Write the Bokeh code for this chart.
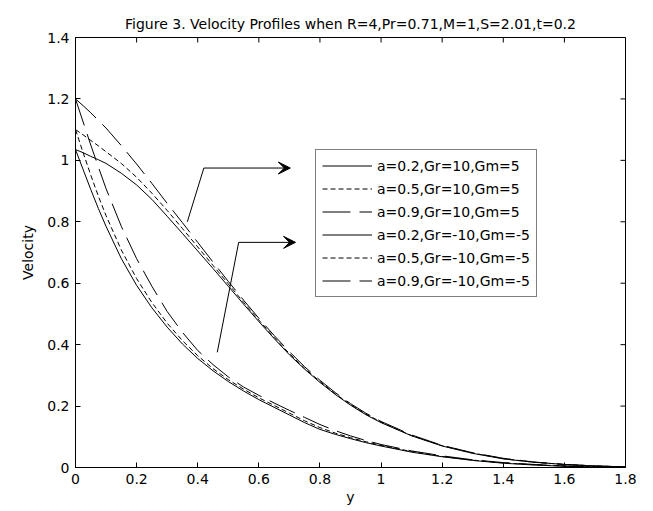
import math
from bokeh.plotting import figure
from bokeh.models import (Range1d, FixedTicker, Legend, LegendItem, Arrow, VeeHead)
from bokeh.embed import file_html
from bokeh.resources import INLINE

# ---------------- data ----------------
y_pos = [0, 0.025, 0.05, 0.075, 0.1, 0.15, 0.2, 0.25, 0.3, 0.35, 0.4, 0.45, 0.5,
         0.55, 0.6, 0.65, 0.7, 0.75, 0.8, 0.85, 0.9, 0.95, 1.0, 1.1, 1.2, 1.3,
         1.4, 1.5, 1.6, 1.7, 1.8]

u_a02_gr10 = [1.035, 1.025, 1.013, 1.002, 0.99, 0.958, 0.92, 0.873, 0.818, 0.762,
              0.705, 0.648, 0.59, 0.532, 0.475, 0.42, 0.367, 0.32, 0.277, 0.238,
              0.203, 0.172, 0.146, 0.103, 0.07, 0.046, 0.028, 0.017, 0.01, 0.005, 0.002]
u_a05_gr10 = [1.1, 1.083, 1.065, 1.047, 1.028, 0.99, 0.945, 0.893, 0.837, 0.778,
              0.718, 0.658, 0.598, 0.538, 0.48, 0.424, 0.371, 0.323, 0.28, 0.24,
              0.205, 0.174, 0.148, 0.104, 0.071, 0.047, 0.029, 0.017, 0.01, 0.005, 0.002]
u_a09_gr10 = [1.2, 1.178, 1.155, 1.13, 1.105, 1.048, 0.988, 0.925, 0.86, 0.797,
              0.733, 0.669, 0.606, 0.545, 0.486, 0.43, 0.377, 0.328, 0.284, 0.244,
              0.208, 0.177, 0.15, 0.106, 0.072, 0.048, 0.03, 0.018, 0.01, 0.005, 0.002]
u_a02_grm10 = [1.035, 0.97, 0.905, 0.843, 0.785, 0.68, 0.593, 0.52, 0.457, 0.402,
               0.355, 0.315, 0.28, 0.249, 0.221, 0.196, 0.171, 0.146, 0.124, 0.108,
               0.094, 0.081, 0.07, 0.05, 0.035, 0.023, 0.014, 0.008, 0.004, 0.002, 0.001]
u_a05_grm10 = [1.1, 1.025, 0.952, 0.883, 0.82, 0.708, 0.615, 0.537, 0.47, 0.413,
               0.364, 0.322, 0.286, 0.255, 0.227, 0.202, 0.177, 0.152, 0.13, 0.112,
               0.097, 0.084, 0.072, 0.052, 0.036, 0.024, 0.015, 0.009, 0.005, 0.002, 0.001]
u_a09_grm10 = [1.2, 1.125, 1.05, 0.978, 0.908, 0.785, 0.68, 0.59, 0.508, 0.44,
               0.381, 0.335, 0.295, 0.262, 0.235, 0.21, 0.186, 0.163, 0.14, 0.12,
               0.103, 0.088, 0.075, 0.054, 0.038, 0.025, 0.016, 0.01, 0.005, 0.002, 0.001]

series_labels = ["a=0.2,Gr=10,Gm=5", "a=0.5,Gr=10,Gm=5", "a=0.9,Gr=10,Gm=5",
                 "a=0.2,Gr=-10,Gm=-5", "a=0.5,Gr=-10,Gm=-5", "a=0.9,Gr=-10,Gm=-5"]

x_ticks = [0, 0.2, 0.4, 0.6, 0.8, 1, 1.2, 1.4, 1.6, 1.8]
x_tick_labels = ["0", "0.2", "0.4", "0.6", "0.8", "1", "1.2", "1.4", "1.6", "1.8"]
y_ticks = [0, 0.2, 0.4, 0.6, 0.8, 1, 1.2, 1.4]
y_tick_labels = ["0", "0.2", "0.4", "0.6", "0.8", "1", "1.2", "1.4"]

arrow1_x = [0.366, 0.42, 0.703]
arrow1_y = [0.8, 0.975, 0.975]
arrow2_x = [0.464, 0.534, 0.72]
arrow2_y = [0.375, 0.733, 0.733]

title_text = "Figure 3. Velocity Profiles when R=4,Pr=0.71,M=1,S=2.01,t=0.2"
x_label = "y"
y_label = "Velocity"

X_MIN, X_MAX = 0, 1.8
Y_MIN, Y_MAX = 0, 1.4

# ---------------- figure ----------------
FONT = "DejaVu Sans"
p = figure(width=653, height=511, output_backend="svg", toolbar_location=None,
           x_range=Range1d(X_MIN, X_MAX), y_range=Range1d(Y_MIN, Y_MAX),
           min_border_left=75, min_border_right=28, min_border_top=37,
           min_border_bottom=44, title=title_text)
p.background_fill_color = "white"
p.border_fill_color = "white"
p.outline_line_color = "black"
p.outline_line_width = 1
p.grid.visible = False

p.title.align = "center"
p.title.vertical_align = "middle"
p.title.text_font = FONT
p.title.text_font_size = "14px"
p.title.text_font_style = "normal"
p.title.text_color = "black"

p.xaxis.axis_label = x_label
p.yaxis.axis_label = y_label

def style_axis(ax, ticks, labels):
    ax.ticker = FixedTicker(ticks=ticks)
    ax.major_label_overrides = dict(zip(ticks, labels))
    ax.axis_line_color = "black"
    ax.major_tick_line_color = "black"
    ax.minor_tick_line_color = None
    ax.major_tick_in = 5
    ax.major_tick_out = 0
    ax.major_label_text_font = FONT
    ax.major_label_text_font_size = "14px"
    ax.major_label_text_color = "black"
    ax.axis_label_text_font = FONT
    ax.axis_label_text_font_size = "14px"
    ax.axis_label_text_font_style = "normal"
    ax.axis_label_text_color = "black"

style_axis(p.xaxis[0], x_ticks, x_tick_labels)
style_axis(p.yaxis[0], y_ticks, y_tick_labels)
p.xaxis[0].major_label_standoff = 6
p.xaxis[0].axis_label_standoff = 2
p.yaxis[0].major_label_standoff = 6
p.yaxis[0].axis_label_standoff = 8

# inward ticks on the top and right edges of the box (5 px, screen units)
p.ray(x=x_ticks, y=[Y_MAX] * len(x_ticks), length=5, length_units="screen",
      angle=-math.pi / 2, line_color="black", line_width=1)
p.ray(x=[X_MAX] * len(y_ticks), y=y_ticks, length=5, length_units="screen",
      angle=math.pi, line_color="black", line_width=1)

# ---------------- curves ----------------
styles = [
    (u_a02_gr10, "solid"),
    (u_a05_gr10, "5 3"),
    (u_a09_gr10, "28 9"),
    (u_a02_grm10, "solid"),
    (u_a05_grm10, "5 3"),
    (u_a09_grm10, "28 9"),
]
items = []
for (vals, dash), lbl in zip(styles, series_labels):
    r = p.line(y_pos, vals, line_color="black", line_width=1, line_dash=dash)
    items.append(LegendItem(label=lbl, renderers=[r]))

legend = Legend(items=items, location=(240, 170))
legend.label_text_font = FONT
legend.label_text_font_size = "14px"
legend.label_text_color = "black"
legend.border_line_color = "black"
legend.border_line_width = 1
legend.background_fill_color = "white"
legend.background_fill_alpha = 1
legend.padding = 6
legend.spacing = 4
legend.margin = 0
legend.label_height = 19
legend.glyph_height = 19
legend.glyph_width = 50
legend.label_standoff = 5
p.add_layout(legend)

# ---------------- arrows ----------------
for ax_, ay_ in ((arrow1_x, arrow1_y), (arrow2_x, arrow2_y)):
    p.line(ax_[:2], ay_[:2], line_color="black", line_width=1)
    p.add_layout(Arrow(x_start=ax_[1], y_start=ay_[1], x_end=ax_[2], y_end=ay_[2],
                       line_color="black", line_width=1,
                       end=VeeHead(size=12, fill_color="black", line_color="black")))

open("out.html", "w").write(file_html(p, INLINE))
